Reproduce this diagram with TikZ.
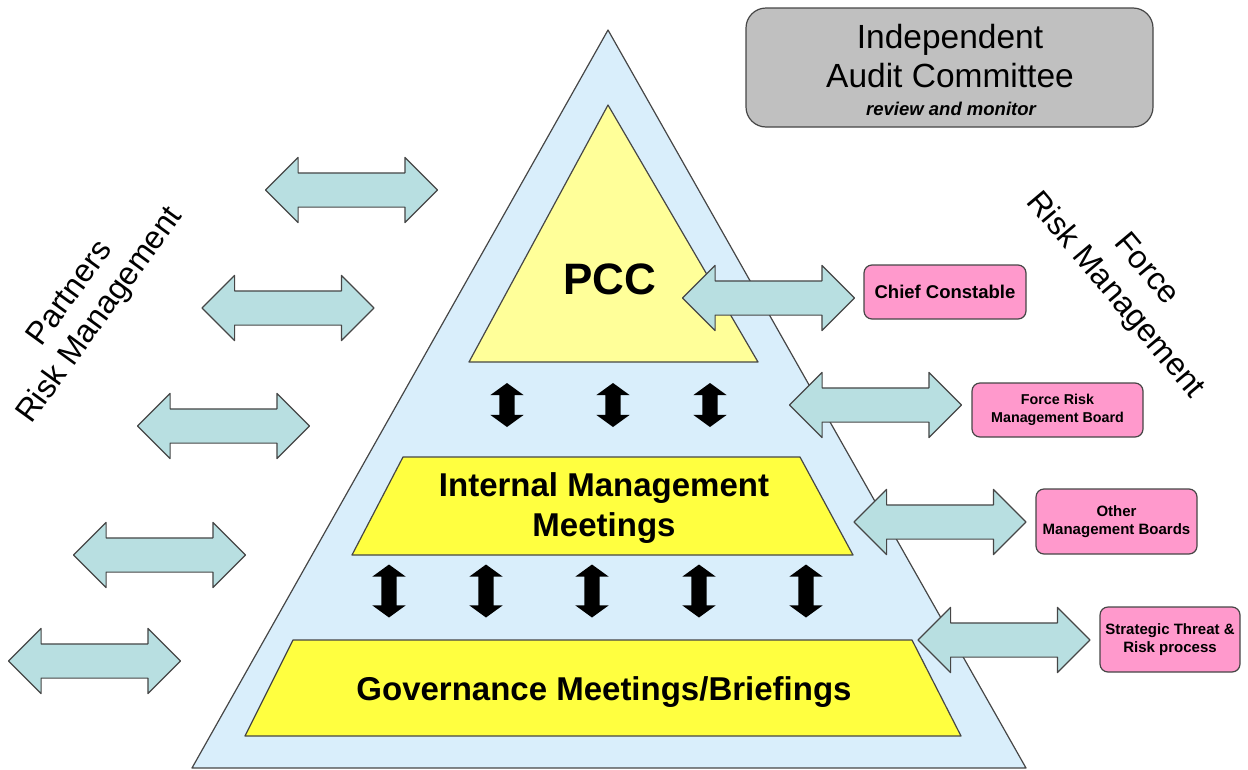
\documentclass[tikz,border=0pt]{standalone}
\usepackage{fontspec}
\setmainfont{Liberation Sans}
\usepackage{tikz}
\usetikzlibrary{shapes.arrows}
\definecolor{pyrBlue}{RGB}{217,238,251}
\definecolor{pccYellow}{RGB}{255,255,153}
\definecolor{mtgYellow}{RGB}{255,255,64}
\definecolor{linkTeal}{RGB}{184,223,225}
\definecolor{boardPink}{RGB}{255,153,204}
\definecolor{auditGrey}{RGB}{192,192,192}
\definecolor{edgeGrey}{RGB}{70,70,70}
\newcommand{\fsz}[2]{\fontsize{#1}{#2}\selectfont}

\begin{document}
\begin{tikzpicture}[x=1pt, y=-1pt, line join=round,
		outlined/.style={draw=edgeGrey, line width=1.2pt},
		linkarrow/.style={outlined, fill=linkTeal, double arrow, inner xsep=0pt, inner ysep=16.5pt,
			double arrow head extend=15.5pt, minimum height=172pt},
		levelarrow/.style={double arrow, fill=black, inner xsep=0pt, inner ysep=7.5pt,
			double arrow head extend=9pt, double arrow tip angle=108, rotate=90},
		board/.style={outlined, fill=boardPink, rounded corners=8pt, align=center, inner sep=2pt}
	]
	\useasboundingbox (0,0) rectangle (1248,769);

	\coordinate (apex) at (608,30);
	\coordinate (baseL) at (192,768);
	\coordinate (baseR) at (1026,768);

	% pyramid and its levels
	\filldraw[outlined, fill=pyrBlue] (apex) -- (baseR) -- (baseL) -- cycle;
	\filldraw[outlined, fill=pccYellow] (608,105) -- (758,362) -- (469,362) -- cycle;
	\filldraw[outlined, fill=mtgYellow] (403,457) -- (800,457) -- (853,555) -- (352,555) -- cycle;
	\filldraw[outlined, fill=mtgYellow] (293,640) -- (912,640) -- (961,736) -- (245,736) -- cycle;

	\node[anchor=base, font=\bfseries\fsz{44}{44}] (pcc) at (610,294) {PCC};
	\node[align=center, font=\bfseries\fsz{33}{40}] (internal) at (604,508) {Internal Management\\Meetings};
	\node[anchor=base, font=\bfseries\fsz{33}{33}] (governance) at (604,700) {Governance Meetings/Briefings};

	\node[levelarrow, minimum height=44pt] (up1) at (507,405) {};
	\node[levelarrow, minimum height=44pt] (up2) at (613,405) {};
	\node[levelarrow, minimum height=44pt] (up3) at (710,405) {};

	\node[levelarrow, minimum height=53pt] (low1) at (389,591) {};
	\node[levelarrow, minimum height=53pt] (low2) at (486,591) {};
	\node[levelarrow, minimum height=53pt] (low3) at (592,591) {};
	\node[levelarrow, minimum height=53pt] (low4) at (699,591) {};
	\node[levelarrow, minimum height=53pt] (low5) at (806,591) {};

	% partners side
	\node[linkarrow] (partner1) at (351.5,190) {};
	\node[linkarrow] (partner2) at (288,308) {};
	\node[linkarrow] (partner3) at (223.5,426) {};
	\node[linkarrow] (partner4) at (159.5,555) {};
	\node[linkarrow] (partner5) at (94.5,661) {};

	\node[rotate=54, align=center, font=\fsz{32}{37}] (partners) at (86,305) {Partners\\Risk Management};

	% force side
	\node[linkarrow] (force1) at (768.5,298) {};
	\node[linkarrow] (force2) at (875.5,405) {};
	\node[linkarrow] (force3) at (940,522) {};
	\node[linkarrow] (force4) at (1004,640) {};

	\node[board, minimum width=162pt, minimum height=54pt, font=\bfseries\fsz{18.5}{21}] (chief) at (945,292) {Chief Constable};
	\node[board, minimum width=171pt, minimum height=54pt, font=\bfseries\fsz{14.3}{17.5}] (frmb) at (1057.5,410) {Force Risk\\Management Board};
	\node[board, minimum width=161pt, minimum height=65pt, font=\bfseries\fsz{15}{18}] (others) at (1116.5,521.5) {Other\\Management Boards};
	\node[board, minimum width=140pt, minimum height=65pt, font=\bfseries\fsz{15}{17.5}] (threat) at (1170,639.5) {Strategic Threat \&\\Risk process};

	\node[rotate=-50, align=center, font=\fsz{32}{40}] (forcerm) at (1130,283) {Force\\Risk Management};

	% audit
	\node[outlined, fill=auditGrey, rounded corners=20pt, minimum width=407pt, minimum height=119pt] (audit) at (949.5,67.5) {};
	\node[anchor=base, font=\fsz{33.5}{33.5}] (audit1) at (950,48) {Independent};
	\node[anchor=base, font=\fsz{33.5}{33.5}] (audit2) at (950,87) {Audit Committee};
	\node[anchor=base, font=\bfseries\itshape\fsz{18.5}{18.5}] (audit3) at (951,115) {review and monitor};

\end{tikzpicture}
\end{document}
